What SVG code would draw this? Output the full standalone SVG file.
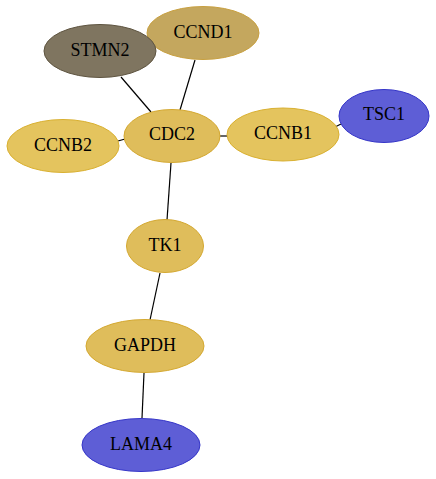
<svg xmlns="http://www.w3.org/2000/svg" width="436" height="479" viewBox="0 0 436 479">
<style>
.edge{stroke:#000;stroke-width:1.2;fill:none}
.gold{fill:#DFBD5B;stroke:#D4A830;stroke-width:1}
.lt{fill:#E4C45E;stroke:#D9B030;stroke-width:1}
.blue{fill:#5E5ED6;stroke:#3535C8;stroke-width:1}
text{font-family:"Liberation Serif","Times New Roman",serif;font-size:18px;text-anchor:middle;fill:#000}
</style>
<rect width="436" height="479" fill="#fff"/>
<g id="edges">
<line class="edge" x1="121" y1="77" x2="151" y2="112"/>
<line class="edge" x1="195" y1="60" x2="180" y2="110"/>
<line class="edge" x1="118" y1="141" x2="125" y2="139"/>
<line class="edge" x1="220" y1="136" x2="227" y2="136"/>
<line class="edge" x1="335" y1="127" x2="341" y2="124"/>
<line class="edge" x1="171" y1="163" x2="167" y2="220"/>
<line class="edge" x1="160" y1="273" x2="150" y2="320"/>
<line class="edge" x1="144" y1="373" x2="142" y2="418"/>
</g>
<g id="CCND1"><ellipse cx="203" cy="33" rx="56" ry="26.5" fill="#C4A75E" stroke="#C8A040"/><text x="203" y="38">CCND1</text></g>
<g id="STMN2"><ellipse cx="100" cy="51" rx="56" ry="26.5" fill="#7F7560" stroke="#5E5440"/><text x="100" y="56">STMN2</text></g>
<g id="CDC2"><ellipse cx="172" cy="136" rx="48" ry="26.5" class="gold"/><text x="172" y="140">CDC2</text></g>
<g id="CCNB2"><ellipse cx="63" cy="146" rx="56" ry="26.5" class="lt"/><text x="63" y="150.5">CCNB2</text></g>
<g id="CCNB1"><ellipse cx="283" cy="134.5" rx="56" ry="26.5" class="lt"/><text x="283" y="139">CCNB1</text></g>
<g id="TSC1"><ellipse cx="384" cy="116" rx="45" ry="26.5" class="blue"/><text x="384" y="120">TSC1</text></g>
<g id="TK1"><ellipse cx="165" cy="246" rx="38.5" ry="26.5" class="gold"/><text x="165" y="250.5">TK1</text></g>
<g id="GAPDH"><ellipse cx="145" cy="346" rx="59" ry="26.5" class="gold"/><text x="145" y="350.5">GAPDH</text></g>
<g id="LAMA4"><ellipse cx="141" cy="445" rx="59" ry="26.5" class="blue"/><text x="141" y="449.5">LAMA4</text></g>
</svg>
